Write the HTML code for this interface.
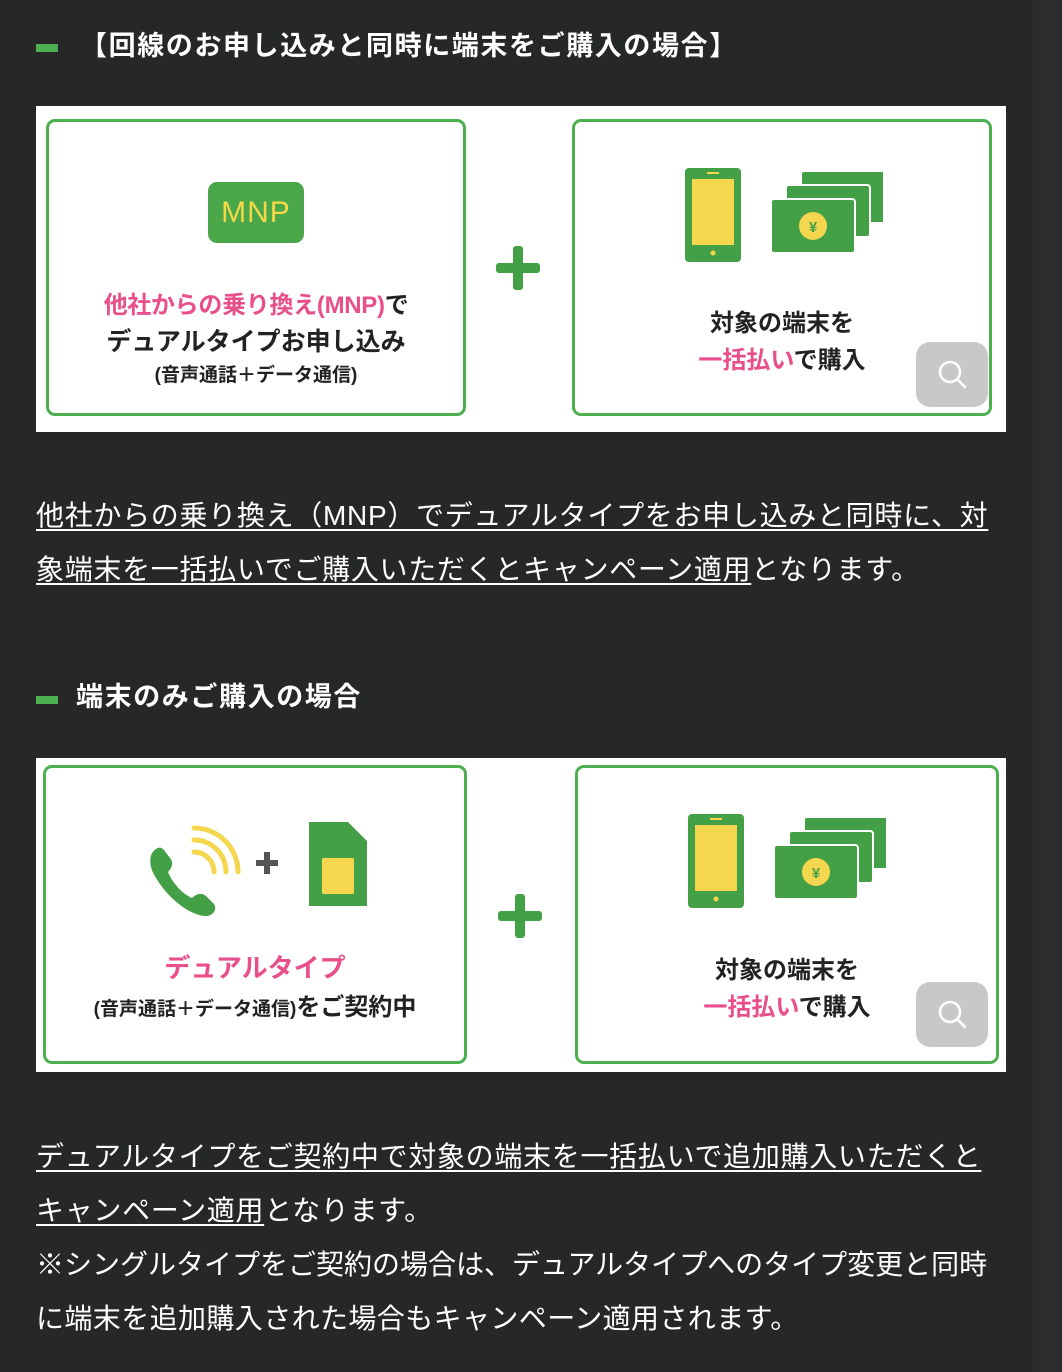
<!DOCTYPE html>
<html><head><meta charset="utf-8"><style>
*{margin:0;padding:0;box-sizing:border-box}
body{width:1062px;height:1372px;background:#262727;position:relative;overflow:hidden;font-family:"Liberation Sans","Noto Sans CJK JP",sans-serif;color:#fff}
.abs{position:absolute}
.bar{position:absolute;width:22px;height:8px;background:#4caf50}
.h{position:absolute;font-size:27px;font-weight:bold;letter-spacing:1.6px;white-space:nowrap;line-height:30px}
.img{position:absolute;left:36px;width:970px;background:#fff}
.card{position:absolute;border:3px solid #4caf50;border-radius:9px;background:#fff}
.t{position:absolute;left:0;right:0;text-align:center;font-weight:bold;color:#222;white-space:nowrap}
.pk{color:#e9508b}
.plus{position:absolute;width:44px;height:44px}
.plus:before{content:"";position:absolute;left:0;top:17px;width:44px;height:10px;background:#44a047;border-radius:3px}
.plus:after{content:"";position:absolute;left:17px;top:0;width:10px;height:44px;background:#44a047;border-radius:3px}
.srch{position:absolute;width:72px;height:65px;background:#c8c8c8;border-radius:14px}
.p{position:absolute;left:36px;font-size:28px;letter-spacing:0.7px;line-height:54px;white-space:nowrap;color:#fff}
.p u{text-decoration:underline;text-underline-offset:4px;text-decoration-thickness:2px}
</style></head><body>
<div class="abs" style="left:1033px;top:0;width:29px;height:1372px;background:#2b2c2c"></div>

<div class="bar" style="left:36px;top:44px"></div>
<div class="h" style="left:80px;top:31px">【回線のお申し込みと同時に端末をご購入の場合】</div>

<div class="img" style="top:106px;height:326px">
  <div class="card" style="left:10px;top:13px;width:420px;height:297px">
    <div class="abs" style="left:159px;top:60px;width:96px;height:61px;background:#4aa84a;border-radius:9px;color:#f5d848;font-size:30px;text-align:center;line-height:61px;letter-spacing:1px">MNP</div>
    <div class="t" style="top:163px;font-size:24px;letter-spacing:-0.3px"><span class="pk">他社からの乗り換え(MNP)</span>で</div>
    <div class="t" style="top:200px;font-size:25px">デュアルタイプお申し込み</div>
    <div class="t" style="top:238px;font-size:19px">(音声通話＋データ通信)</div>
  </div>
  <div class="plus" style="left:460px;top:140px"></div>
  <div class="card" style="left:536px;top:13px;width:420px;height:297px">
    <svg class="abs" style="left:108px;top:43px" width="200" height="100">
      <rect x="2" y="3" width="56" height="94" rx="4" fill="#44a047"/>
      <rect x="9" y="14" width="42" height="66" fill="#f5d64f"/>
      <rect x="24" y="7" width="12" height="2" fill="#f5d64f"/>
      <circle cx="30" cy="88" r="2.5" fill="#f5d64f"/>
      <rect x="118" y="6" width="84" height="52" rx="3" fill="#44a047" stroke="#fff" stroke-width="2"/>
      <rect x="103" y="20" width="84" height="52" rx="3" fill="#44a047" stroke="#fff" stroke-width="2"/>
      <rect x="88" y="34" width="84" height="54" rx="3" fill="#44a047" stroke="#fff" stroke-width="2"/>
      <circle cx="130" cy="61" r="14" fill="#f5d64f"/>
      <text x="130" y="67" font-size="15" font-weight="bold" fill="#44a047" text-anchor="middle">¥</text>
    </svg>
    <div class="t" style="top:181px;font-size:24px">対象の端末を</div>
    <div class="t" style="top:218px;font-size:24px"><span class="pk">一括払い</span>で購入</div>
  </div>
  <div class="srch" style="left:880px;top:236px">
    <svg width="72" height="65"><circle cx="34" cy="30" r="10" fill="none" stroke="#fff" stroke-width="2.5"/><line x1="41" y1="37" x2="49" y2="45" stroke="#fff" stroke-width="2.5" stroke-linecap="round"/></svg>
  </div>
</div>

<div class="p" style="top:489px"><u>他社からの乗り換え（MNP）でデュアルタイプをお申し込みと同時に、対</u></div>
<div class="p" style="top:543px"><u>象端末を一括払いでご購入いただくとキャンペーン適用</u>となります。</div>

<div class="bar" style="left:36px;top:696px"></div>
<div class="h" style="left:76px;top:682px">端末のみご購入の場合</div>

<div class="img" style="top:758px;height:314px">
  <div class="card" style="left:7px;top:7px;width:424px;height:299px">
    <svg class="abs" style="left:100px;top:50px" width="230" height="100">
      <path d="M12 30 C2 34 2 48 10 60 C22 80 42 96 58 98 C66 99 72 92 68 86 L60 78 C56 74 50 76 46 80 C36 76 26 64 22 54 C26 50 28 44 24 40 L18 32 C16 30 14 29 12 30Z" fill="#44a047"/>
      <path d="M48 22 A32 32 0 0 1 80 54" stroke="#f5d64f" stroke-width="5" fill="none" stroke-linecap="round"/>
      <path d="M48 10 A44 44 0 0 1 92 54" stroke="#f5d64f" stroke-width="5" fill="none" stroke-linecap="round"/>
      <path d="M48 34 A20 20 0 0 1 68 54" stroke="#f5d64f" stroke-width="5" fill="none" stroke-linecap="round"/>
      <rect x="110" y="42" width="22" height="6" fill="#555"/><rect x="118" y="34" width="6" height="22" fill="#555"/>
      <path d="M163 4 L202 4 L221 23 L221 88 L163 88 Z" fill="#44a047"/>
      <rect x="176" y="40" width="32" height="36" rx="2" fill="#f5d64f"/>
    </svg>
    <div class="t" style="top:180px;font-size:26px;color:#e9508b">デュアルタイプ</div>
    <div class="t" style="top:219px;font-size:24px"><span style="font-size:19px">(音声通話＋データ通信)</span>をご契約中</div>
  </div>
  <div class="plus" style="left:462px;top:136px"></div>
  <div class="card" style="left:539px;top:7px;width:424px;height:299px">
    <svg class="abs" style="left:108px;top:43px" width="200" height="100">
      <rect x="2" y="3" width="56" height="94" rx="4" fill="#44a047"/>
      <rect x="9" y="14" width="42" height="66" fill="#f5d64f"/>
      <rect x="24" y="7" width="12" height="2" fill="#f5d64f"/>
      <circle cx="30" cy="88" r="2.5" fill="#f5d64f"/>
      <rect x="118" y="6" width="84" height="52" rx="3" fill="#44a047" stroke="#fff" stroke-width="2"/>
      <rect x="103" y="20" width="84" height="52" rx="3" fill="#44a047" stroke="#fff" stroke-width="2"/>
      <rect x="88" y="34" width="84" height="54" rx="3" fill="#44a047" stroke="#fff" stroke-width="2"/>
      <circle cx="130" cy="61" r="14" fill="#f5d64f"/>
      <text x="130" y="67" font-size="15" font-weight="bold" fill="#44a047" text-anchor="middle">¥</text>
    </svg>
    <div class="t" style="top:182px;font-size:24px">対象の端末を</div>
    <div class="t" style="top:219px;font-size:24px"><span class="pk">一括払い</span>で購入</div>
  </div>
  <div class="srch" style="left:880px;top:224px">
    <svg width="72" height="65"><circle cx="34" cy="30" r="10" fill="none" stroke="#fff" stroke-width="2.5"/><line x1="41" y1="37" x2="49" y2="45" stroke="#fff" stroke-width="2.5" stroke-linecap="round"/></svg>
  </div>
</div>

<div class="p" style="top:1130px"><u>デュアルタイプをご契約中で対象の端末を一括払いで追加購入いただくと</u></div>
<div class="p" style="top:1184px"><u>キャンペーン適用</u>となります。</div>
<div class="p" style="top:1238px;letter-spacing:0px">※シングルタイプをご契約の場合は、デュアルタイプへのタイプ変更と同時</div>
<div class="p" style="top:1292px;letter-spacing:0.4px">に端末を追加購入された場合もキャンペーン適用されます。</div>
</body></html>
